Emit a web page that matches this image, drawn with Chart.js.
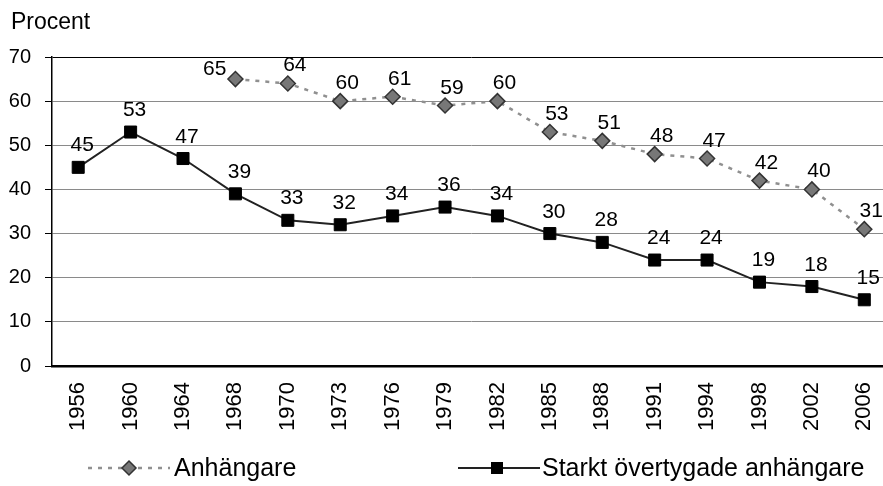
<!DOCTYPE html>
<html>
<head>
<meta charset="utf-8">
<script src="https://cdn.jsdelivr.net/npm/chart.js@4/dist/chart.umd.min.js"></script>
<style>
  html, body { margin: 0; padding: 0; background: #fff; overflow: hidden; }
  #wrap { position: relative; width: 900px; height: 486px; }
  #yTitle { position: absolute; left: 11px; top: 8px; font: 23px "Liberation Sans", Arial, sans-serif; color: #000; }
</style>
</head>
<body>
<div id="wrap">
  <canvas id="c" width="900" height="486"></canvas>
  <div id="yTitle">Procent</div>
</div>
<script>
const years = ['1956','1960','1964','1968','1970','1973','1976','1979','1982','1985','1988','1991','1994','1998','2002','2006'];
const anhangare = [null, null, null, 65, 64, 60, 61, 59, 60, 53, 51, 48, 47, 42, 40, 31];
const starkt = [45, 53, 47, 39, 33, 32, 34, 36, 34, 30, 28, 24, 24, 19, 18, 15];
const seriesNames = ['Anhängare', 'Starkt övertygade anhängare'];
const yMin = 0, yMax = 70, yStep = 10;

const FONT = '"Liberation Sans", Arial, sans-serif';

const labelPlugin = {
  id: 'labels',
  afterDatasetsDraw(chart) {
    const ctx = chart.ctx;
    ctx.save();
    ctx.font = '21px ' + FONT;
    ctx.fillStyle = '#000';
    ctx.textBaseline = 'alphabetic';
    chart.data.datasets.forEach((ds, di) => {
      const meta = chart.getDatasetMeta(di);
      let first = true;
      meta.data.forEach((pt, i) => {
        const v = ds.data[i];
        if (v === null || v === undefined) return;
        const txt = String(v);
        if (di === 0 && first) {
          ctx.textAlign = 'right';
          ctx.fillText(txt, pt.x - 9, pt.y - 4);
        } else {
          ctx.textAlign = 'center';
          if (di === 0) ctx.fillText(txt, pt.x + 7, pt.y - 12);
          else ctx.fillText(txt, pt.x + 4, pt.y - 16);
        }
        first = false;
      });
    });
    ctx.restore();
  }
};

const legendPlugin = {
  id: 'customLegend',
  afterDraw(chart) {
    const ctx = chart.ctx;
    const y = 468;
    ctx.save();
    ctx.strokeStyle = '#909090';
    ctx.lineWidth = 2.5;
    ctx.setLineDash([4, 6]);
    ctx.beginPath(); ctx.moveTo(88, y); ctx.lineTo(170, y); ctx.stroke();
    ctx.setLineDash([]);
    ctx.fillStyle = '#777'; ctx.strokeStyle = '#333'; ctx.lineWidth = 1.5;
    ctx.beginPath();
    ctx.moveTo(129, y - 7); ctx.lineTo(136, y); ctx.lineTo(129, y + 7); ctx.lineTo(122, y); ctx.closePath();
    ctx.fill(); ctx.stroke();
    ctx.fillStyle = '#000';
    ctx.font = '25px ' + FONT;
    ctx.textBaseline = 'middle';
    ctx.textAlign = 'left';
    ctx.fillText(seriesNames[0], 174, y + 1);
    ctx.strokeStyle = '#222'; ctx.lineWidth = 2;
    ctx.beginPath(); ctx.moveTo(458, y); ctx.lineTo(540, y); ctx.stroke();
    ctx.fillStyle = '#000';
    ctx.fillRect(491, y - 6, 12, 12);
    ctx.fillText(seriesNames[1], 542, y + 1);
    ctx.restore();
  }
};

new Chart(document.getElementById('c'), {
  type: 'line',
  data: {
    labels: years,
    datasets: [
      {
        label: seriesNames[0],
        data: anhangare,
        borderColor: '#909090',
        borderWidth: 2.5,
        borderDash: [4, 6],
        pointStyle: 'rectRot',
        pointRadius: 7.5,
        pointBackgroundColor: '#777',
        pointBorderColor: '#333',
        pointBorderWidth: 1.5,
        spanGaps: false,
        tension: 0
      },
      {
        label: seriesNames[1],
        data: starkt,
        borderColor: '#222',
        borderWidth: 2,
        pointStyle: 'rect',
        pointRadius: 8.5,
        pointBackgroundColor: '#000',
        pointBorderColor: '#000',
        pointBorderWidth: 1,
        tension: 0
      }
    ]
  },
  options: {
    responsive: false,
    animation: false,
    devicePixelRatio: 1,
    layout: { padding: { top: 57, right: 9, left: 0, bottom: 0 } },
    plugins: { legend: { display: false }, tooltip: { enabled: false } },
    scales: {
      x: {
        offset: true,
        grid: { display: false, drawTicks: false },
        border: { display: true, color: '#000', width: 2.5 },
        ticks: {
          font: { family: FONT, size: 22 },
          color: '#000',
          maxRotation: 90, minRotation: 90,
          padding: 16,
          autoSkip: false
        },
        afterFit(scale) { scale.height = 120; scale.paddingLeft = 0; scale.paddingRight = 0; }
      },
      y: {
        min: yMin, max: yMax,
        grid: {
          color: (c) => (c.tick && c.tick.value === yMax) ? '#000' : (c.tick && c.tick.value === yMin ? 'rgba(0,0,0,0)' : '#8a8a8a'),
          tickColor: '#000',
          tickLength: 7,
          lineWidth: 1
        },
        border: { display: true, color: '#000', width: 1.5 },
        ticks: {
          stepSize: yStep,
          font: { family: FONT, size: 20 },
          color: '#000',
          padding: 14
        },
        afterFit(scale) { scale.width = 52; scale.paddingTop = 0; scale.paddingBottom = 0; }
      }
    }
  },
  plugins: [labelPlugin, legendPlugin]
});
</script>
</body>
</html>
